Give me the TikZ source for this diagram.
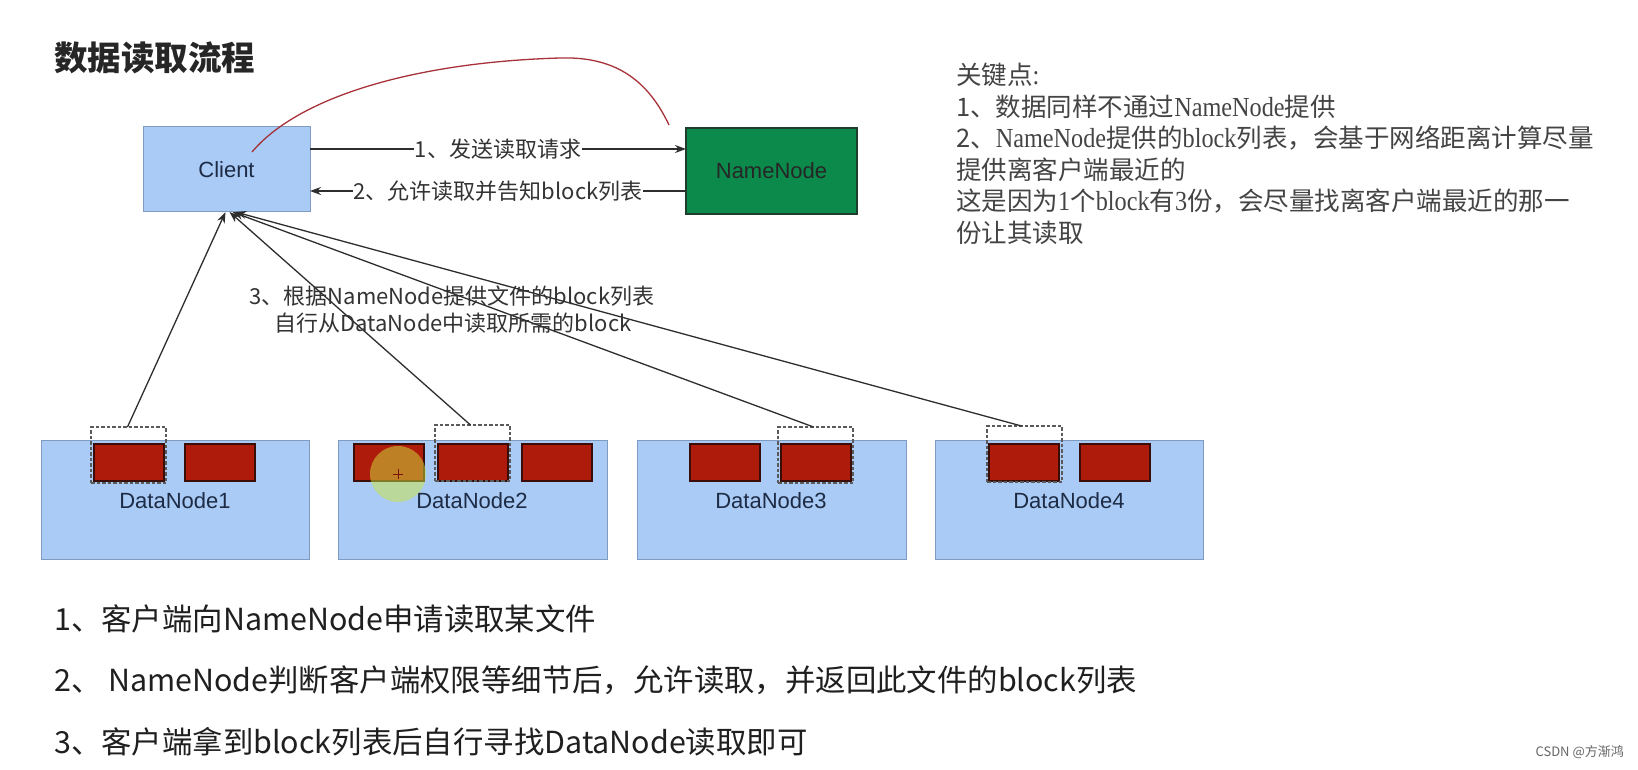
\documentclass[tikz,border=0pt]{standalone}
\usepackage{fontspec}
\setmainfont{Noto Sans CJK SC}
\newfontfamily\arialf{Liberation Sans}
\newfontfamily\songlat[FakeStretch=0.88,Scale=1.08]{Liberation Serif}
\newcommand{\LT}[1]{{\songlat #1}}
\usetikzlibrary{arrows.meta}
\definecolor{cliblue}{HTML}{A9CBF5}
\definecolor{cliborder}{HTML}{7F9CC0}
\definecolor{nngreen}{HTML}{0B8A4C}
\definecolor{nnborder}{HTML}{1F3D2C}
\definecolor{blkred}{HTML}{AF1B0B}
\definecolor{blkborder}{HTML}{3B0D08}
\definecolor{curvered}{HTML}{A8323A}
\definecolor{txtdark}{HTML}{1E2B45}
\definecolor{notegrey}{HTML}{444444}
\definecolor{arrowgrey}{HTML}{2E2E2E}
\definecolor{dashgrey}{HTML}{5A5A5A}
\tikzset{
  bluebox/.style={draw=cliborder, line width=1pt, fill=cliblue, inner sep=0pt, outer sep=0pt, anchor=north west, text=txtdark, font=\arialf\fontsize{22}{26}\selectfont},
  greenbox/.style={draw=nnborder, line width=1.2pt, fill=nngreen, inner sep=0pt, outer sep=0pt, anchor=north west, text=black!85, font=\arialf\fontsize{22}{26}\selectfont},
  blockbox/.style={draw=blkborder, line width=1.2pt, fill=blkred, inner sep=0pt, outer sep=0pt, anchor=north west, minimum width=70pt, minimum height=37pt},
  selbox/.style={draw=dashgrey, line width=1.1pt, dash pattern=on 3.5pt off 2pt, inner sep=0pt, outer sep=0pt, anchor=north west, minimum width=75pt, minimum height=56pt},
  conn/.style={draw=arrowgrey, line width=1.3pt, -{Stealth[length=11pt,width=8pt]}},
  lbl/.style={text=black!80, font=\fontsize{22}{26}\selectfont, inner sep=1pt},
  note/.style={text=notegrey, font=\fontsize{25.5}{30}\selectfont, anchor=west, inner sep=0pt},
  steptext/.style={text=black!88, font=\fontsize{30.4}{34}\selectfont, anchor=west, inner sep=0pt},
}
\begin{document}
\begin{tikzpicture}[x=1pt, y=-1pt]
\useasboundingbox (0,0) rectangle (1638,770);
\fill[white] (0,0) rectangle (1638,770);

% title
\node[anchor=west, inner sep=0pt, text=black!85, font=\bfseries\fontsize{33.5}{36}\selectfont] (title) at (54,58) {数据读取流程};

% Client and NameNode
\node[bluebox, minimum width=167pt, minimum height=85pt] (client) at (143,127) {Client};
\node[greenbox, minimum width=171pt, minimum height=86pt] (nn) at (686,128) {NameNode};

% red curve
\coordinate (cs) at (252,152);
\coordinate (cm) at (560,58);
\coordinate (ce) at (669,125);
\draw[curvered, line width=1.3pt] (cs) .. controls (300,95) and (420,62) .. (cm) .. controls (620,56) and (650,85) .. (ce);

% arrows between client and namenode
\draw[conn] (client.east |- 0,149) -- node[lbl, fill=white] {1、发送读取请求} (nn.west |- 0,149);
\draw[conn] (nn.west |- 0,191) -- node[lbl, fill=white] {2、允许读取并告知block列表} (client.east |- 0,191);

% DataNodes
\node[bluebox, minimum width=268pt, minimum height=119pt] (dn1) at (41,440) {};
\node[bluebox, minimum width=269pt, minimum height=119pt] (dn2) at (338,440) {};
\node[bluebox, minimum width=269pt, minimum height=119pt] (dn3) at (637,440) {};
\node[bluebox, minimum width=268pt, minimum height=119pt] (dn4) at (935,440) {};
\node[text=txtdark, font=\arialf\fontsize{22}{26}\selectfont] (dl1) at (175,501) {DataNode1};
\node[text=txtdark, font=\arialf\fontsize{22}{26}\selectfont] (dl2) at (472,501) {DataNode2};
\node[text=txtdark, font=\arialf\fontsize{22}{26}\selectfont] (dl3) at (771,501) {DataNode3};
\node[text=txtdark, font=\arialf\fontsize{22}{26}\selectfont] (dl4) at (1069,501) {DataNode4};

% blocks
\node[blockbox] (b11) at (94,444) {};
\node[blockbox] (b12) at (185,444) {};
\node[blockbox] (b21) at (354,444) {};
\node[blockbox] (b22) at (438,444) {};
\node[blockbox] (b23) at (522,444) {};
\node[blockbox] (b31) at (690,444) {};
\node[blockbox] (b32) at (781,444) {};
\node[blockbox] (b41) at (989,444) {};
\node[blockbox] (b42) at (1080,444) {};

% selected (dashed) boxes
\node[selbox] (s1) at (91,427) {};
\node[selbox] (s2) at (435,425) {};
\node[selbox] (s3) at (778,427) {};
\node[selbox] (s4) at (987,426) {};

% cursor highlight
\fill[yellow!75!green!80!white, opacity=0.5] (398,474) circle (28);
\draw[blkred!70!black, line width=0.8pt] (393,474) -- (403,474) (398,469) -- (398,479);

% arrows from datanodes to client
\coordinate (t1) at ([xshift=-1pt]client.south);
\coordinate (t2) at ([xshift=3pt]client.south);
\coordinate (t3) at ([xshift=6pt]client.south);
\coordinate (t4) at ([xshift=9pt]client.south);
\draw[conn] ([xshift=-1pt]s1.north) -- (t1);
\draw[conn] ([xshift=-2pt]s2.north) -- (t2);
\draw[conn] ([xshift=-2pt]s3.north) -- (t3);
\draw[conn] ([xshift=-3pt]s4.north) -- (t4);

% label 3
\node[lbl] (l3a) at (452,296) {3、根据NameNode提供文件的block列表};
\node[lbl] (l3b) at (453,323) {自行从DataNode中读取所需的block};

% key points
\node[note] (k0) at (956,75) {关键点\LT{:}};
\node[note] (k1) at (956,106.6) {1、数据同样不通过\LT{NameNode}提供};
\node[note] (k2) at (956,138.2) {2、\LT{NameNode}提供的\LT{block}列表，会基于网络距离计算尽量};
\node[note] (k3) at (956,169.8) {提供离客户端最近的};
\node[note] (k4) at (956,201.4) {这是因为\LT{1}个\LT{block}有\LT{3}份，会尽量找离客户端最近的那一};
\node[note] (k5) at (956,233) {份让其读取};

% steps
\node[steptext] (p1) at (54,619) {1、客户端向NameNode申请读取某文件};
\node[steptext] (p2) at (54,680) {2、 NameNode判断客户端权限等细节后，允许读取，并返回此文件的block列表};
\node[steptext] (p3) at (54,742) {3、客户端拿到block列表后自行寻找DataNode读取即可};

% watermark
\node[anchor=east, inner sep=0pt, text=black!60, font=\fontsize{13}{15}\selectfont] (wm) at (1624,752) {CSDN @方渐鸿};
\end{tikzpicture}
\end{document}
